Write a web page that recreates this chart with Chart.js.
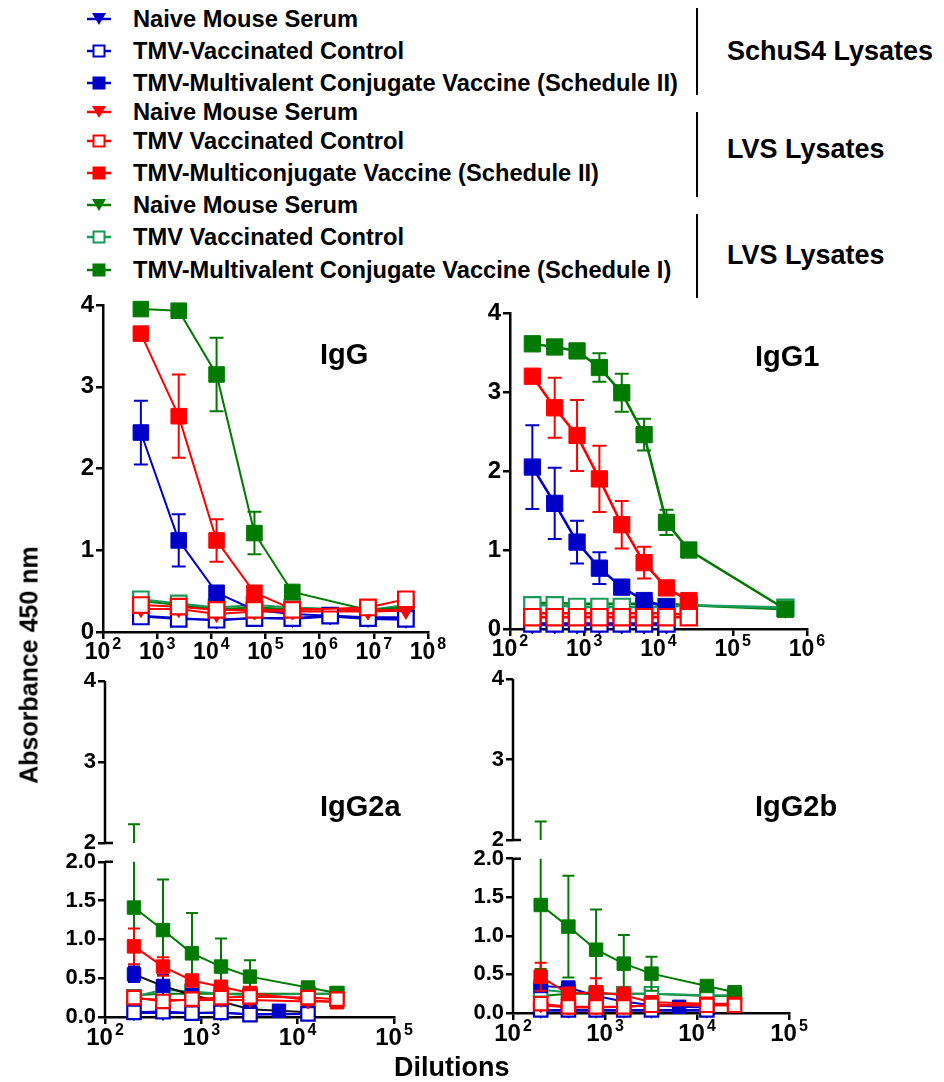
<!DOCTYPE html>
<html>
<head>
<meta charset="utf-8">
<script src="https://cdn.jsdelivr.net/npm/chart.js@4.4.0/dist/chart.umd.min.js"></script>
<style>
  body { margin: 0; background: #fff; }
  #page { position: relative; width: 944px; height: 1082px; overflow: hidden; font-family: "Liberation Sans", Arial, sans-serif; font-weight: bold; color: #000; }
  canvas { position: absolute; }
  .txt { position: absolute; white-space: nowrap; line-height: 1; }
  .leg { position: absolute; left: 86px; height: 28px; display: flex; align-items: center; font-size: 23.7px; white-space: nowrap; }
  .leg svg { margin-right: 21px; }
  .vline { position: absolute; left: 696px; width: 2px; background: #000; }
  .ptitle { font-size: 29px; }
</style>
</head>
<body>
<div id="page">
  <div id="legend"></div>
  <canvas id="cIgG"></canvas>
  <canvas id="cIgG1"></canvas>
  <canvas id="cIgG2a"></canvas>
  <canvas id="cIgG2b"></canvas>
  <div class="txt" style="left:29px; top:665px; font-size:25px; transform: translate(-50%, -50%) rotate(-90deg); transform-origin: 50% 50%;">Absorbance 450 nm</div>
  <div class="txt" style="left:394px; top:1054px; font-size:27px;">Dilutions</div>
</div>
<script>
'use strict'

// legend
const legend_labels = ['Naive Mouse Serum', 'TMV-Vaccinated Control', 'TMV-Multivalent Conjugate Vaccine (Schedule II)',
  'Naive Mouse Serum', 'TMV Vaccinated Control', 'TMV-Multiconjugate Vaccine (Schedule II)',
  'Naive Mouse Serum', 'TMV Vaccinated Control', 'TMV-Multivalent Conjugate Vaccine (Schedule I)'];
const group_labels = ['SchuS4 Lysates', 'LVS Lysates', 'LVS Lysates'];
const panel_titles = ['IgG', 'IgG1', 'IgG2a', 'IgG2b'];

// IgG
const dil_igg = [500, 2500, 12500, 62500, 312500, 1562500, 7812500, 39062500];
const igg_schu_naive = [0.20, 0.17, 0.14, 0.17, 0.16, 0.19, 0.16, 0.15];
const igg_schu_tmv = [0.19, 0.16, 0.15, 0.17, 0.17, 0.20, 0.17, 0.16];
const igg_schu_vac = [2.44, 1.12, 0.48, 0.27, 0.22, 0.20, 0.18, 0.18];
const igg_schu_vac_err = [0.39, 0.32, 0.03, 0.02, 0.02, 0.02, 0.02, 0.02];
const igg_lvs2_naive = [0.28, 0.28, 0.22, 0.25, 0.25, null, 0.25, 0.26];
const igg_lvs2_tmv = [0.33, 0.31, 0.27, 0.27, 0.27, null, 0.30, 0.40];
const igg_lvs2_vac = [3.65, 2.64, 1.12, 0.48, 0.28, null, 0.27, 0.27];
const igg_lvs2_vac_err = [0.05, 0.51, 0.26, 0.08, 0.03, null, 0.02, 0.02];
const igg_lvs1_naive = [0.38, 0.33, 0.28, 0.30, 0.28, null, 0.27, 0.30];
const igg_lvs1_tmv = [0.40, 0.35, 0.30, 0.33, 0.30, null, 0.27, 0.33];
const igg_lvs1_vac = [3.95, 3.93, 3.15, 1.21, 0.49, null, 0.27, 0.30];
const igg_lvs1_vac_err = [0.02, 0.02, 0.45, 0.26, 0.05, null, 0.02, 0.02];

// IgG1
const dil_igg1 = [200, 400, 800, 1600, 3200, 6400, 12800, 25600, 512000];
const igg1_schu_naive = [0.05, 0.05, 0.05, 0.05, 0.05, 0.05, 0.05];
const igg1_schu_tmv = [0.07, 0.07, 0.07, 0.07, 0.07, 0.07, 0.07];
const igg1_schu_vac = [2.05, 1.59, 1.10, 0.77, 0.53, 0.36, 0.28];
const igg1_schu_vac_err = [0.53, 0.45, 0.27, 0.20, 0.06, 0.03, 0.03];
const igg1_lvs2_naive = [0.20, 0.20, 0.20, 0.20, 0.20, 0.20, 0.20, 0.18];
const igg1_lvs2_tmv = [0.15, 0.15, 0.15, 0.15, 0.15, 0.15, 0.15, 0.15];
const igg1_lvs2_vac = [3.20, 2.80, 2.45, 1.90, 1.32, 0.84, 0.52, 0.36];
const igg1_lvs2_vac_err = [0.05, 0.38, 0.45, 0.42, 0.30, 0.20, 0.05, 0.05];
const igg1_lvs1_naive = [0.33, 0.33, 0.32, 0.32, 0.32, 0.32, 0.32, 0.30, 0.25];
const igg1_lvs1_tmv = [0.30, 0.30, 0.28, 0.28, 0.28, 0.28, 0.28, 0.30, 0.27];
const igg1_lvs1_vac = [3.61, 3.57, 3.52, 3.31, 2.99, 2.46, 1.35, 1.00, 0.25];
const igg1_lvs1_vac_err = [0.03, 0.03, 0.03, 0.18, 0.24, 0.20, 0.16, 0.03, 0.05];

// IgG2a / IgG2b
const dil_igg2 = [200, 400, 800, 1600, 3200, 6400, 12800, 25600];
const igg2a_schu_naive = [0.05, 0.05, 0.05, 0.05, 0.04, null, 0.04];
const igg2a_schu_tmv = [0.06, 0.07, 0.05, 0.06, 0.03, null, 0.04];
const igg2a_schu_vac = [0.55, 0.40, 0.28, 0.20, 0.10, 0.08, 0.06];
const igg2a_schu_vac_err = [0.10, 0.14, 0.04, 0.04, 0.03, 0.02, 0.02];
const igg2a_lvs2_naive = [0.24, 0.22, 0.22, 0.22, 0.22, null, 0.20, 0.20];
const igg2a_lvs2_tmv = [0.25, 0.20, 0.23, 0.25, 0.26, null, 0.25, 0.23];
const igg2a_lvs2_vac = [0.91, 0.65, 0.47, 0.39, 0.31, null, 0.22, 0.19];
const igg2a_lvs2_vac_err = [0.23, 0.12, 0.05, 0.05, 0.05, null, 0.03, 0.03];
const igg2a_lvs1_naive = [0.28, 0.30, 0.30, 0.30, 0.30, null, 0.30, 0.30];
const igg2a_lvs1_tmv = [0.26, 0.35, 0.33, 0.30, 0.28, null, 0.30, 0.30];
const igg2a_lvs1_vac = [1.41, 1.12, 0.82, 0.65, 0.52, null, 0.38, 0.31];
const igg2a_lvs1_vac_err = [0.82, 0.65, 0.52, 0.36, 0.21, null, 0.02, 0.02];

const igg2b_schu_naive = [0.03, 0.03, 0.03, 0.03, 0.03, null, 0.03];
const igg2b_schu_tmv = [0.04, 0.04, 0.04, 0.04, 0.04, null, 0.04];
const igg2b_schu_vac = [0.35, 0.33, 0.22, 0.15, 0.10, 0.08, 0.07];
const igg2b_schu_vac_err = [0.05, 0.05, 0.03, 0.03, 0.02, 0.02, 0.02];
const igg2b_lvs2_naive = [0.10, 0.07, 0.07, 0.08, 0.10, null, 0.10, 0.10];
const igg2b_lvs2_tmv = [0.12, 0.08, 0.08, 0.08, 0.10, null, 0.10, 0.10];
const igg2b_lvs2_vac = [0.47, 0.25, 0.27, 0.23, 0.14, null, 0.12, 0.12];
const igg2b_lvs2_vac_err = [0.18, 0.05, 0.18, 0.10, 0.05, null, 0.02, 0.02];
const igg2b_lvs1_naive = [0.22, 0.25, 0.25, 0.25, 0.25, null, 0.22, 0.22];
const igg2b_lvs1_tmv = [0.30, 0.27, 0.25, 0.25, 0.25, null, 0.23, 0.23];
const igg2b_lvs1_vac = [1.40, 1.12, 0.82, 0.64, 0.51, null, 0.35, 0.27];
const igg2b_lvs1_vac_err = [0.83, 0.66, 0.52, 0.37, 0.22, null, 0.02, 0.02];

const BLUE = '#0000c8', RED = '#ff0000', GREEN = '#007a00', GREEN_OPEN = '#1a9a5a';
const LOWER_FRAC = 0.462, UPPER_FRAC = 0.482;
const FONT = '"Liberation Sans", Arial, sans-serif';

// y axis with a break between 2.0 (lower part) and 2 (upper part)
class BrokenLinearScale extends Chart.LinearScale {
  upperPixel(v) { return this.top + (4 - v) / 2 * (this.bottom - this.top) * UPPER_FRAC; }
  getPixelForValue(v) {
    if (v <= 2) return this.bottom - v / 2 * (this.bottom - this.top) * LOWER_FRAC;
    return this.upperPixel(v);
  }
  getValueForPixel(p) {
    const h = this.bottom - this.top;
    if (p >= this.bottom - h * LOWER_FRAC) return (this.bottom - p) / (h * LOWER_FRAC) * 2;
    return 4 - (p - this.top) / (h * UPPER_FRAC) * 2;
  }
  getPixelForTick(i) {
    const t = this.ticks[i];
    return t.upper ? this.upperPixel(t.value) : this.getPixelForValue(t.value);
  }
}
BrokenLinearScale.id = 'brokenLinear';
BrokenLinearScale.defaults = {};
Chart.register(BrokenLinearScale);

const errorBars = {
  id: 'errorBars',
  beforeDatasetDraw(chart, args) {
    const ds = chart.data.datasets[args.index];
    if (!ds.withErr) return;
    const ys = chart.scales.y, ctx = chart.ctx, cap = ds.cap;
    ctx.save();
    ctx.strokeStyle = ds.pointBorderColor;
    ctx.lineWidth = 2;
    args.meta.data.forEach(function(pt, i) {
      const p = ds.data[i];
      if (!p.e) return;
      const x = pt.x;
      const yLo = ys.getPixelForValue(p.y - p.e), yHi = ys.getPixelForValue(p.y + p.e);
      ctx.beginPath();
      if (ys.type === 'brokenLinear' && p.y + p.e > 2) {
        ctx.moveTo(x, yLo); ctx.lineTo(x, ys.getPixelForValue(2));
        ctx.moveTo(x, ys.upperPixel(2)); ctx.lineTo(x, yHi);
      } else {
        ctx.moveTo(x, yLo); ctx.lineTo(x, yHi);
      }
      ctx.moveTo(x - cap, yLo); ctx.lineTo(x + cap, yLo);
      ctx.moveTo(x - cap, yHi); ctx.lineTo(x + cap, yHi);
      ctx.stroke();
    });
    ctx.restore();
  }
};

const brokenAxis = {
  id: 'brokenAxis',
  beforeDatasetsDraw(chart) {
    const ys = chart.scales.y;
    if (ys.type !== 'brokenLinear') return;
    const ctx = chart.ctx, x = chart.chartArea.left;
    const y2 = ys.getPixelForValue(2), u2 = ys.upperPixel(2);
    ctx.save();
    ctx.strokeStyle = '#000';
    ctx.lineWidth = 2.5;
    ctx.beginPath();
    ctx.moveTo(x, ys.bottom); ctx.lineTo(x, y2);
    ctx.moveTo(x, u2); ctx.lineTo(x, ys.top);
    ctx.moveTo(x, y2); ctx.lineTo(x + 8, y2);
    ctx.moveTo(x, u2); ctx.lineTo(x + 8, u2);
    ctx.stroke();
    ctx.restore();
  }
};

// x tick labels 10^n with a real superscript
const powerLabels = {
  id: 'powerLabels',
  afterDraw(chart) {
    const xs = chart.scales.x, ctx = chart.ctx;
    const big = chart.options.plugins.powerLabels.size, small = Math.round(big * 0.68);
    ctx.save();
    ctx.fillStyle = '#000';
    ctx.textBaseline = 'alphabetic';
    xs.ticks.forEach(function(t) {
      const x = xs.getPixelForValue(t.value);
      const base = '10', exp = String(Math.round(Math.log10(t.value)));
      ctx.font = 'bold ' + big + 'px ' + FONT;
      const wb = ctx.measureText(base).width;
      ctx.font = 'bold ' + small + 'px ' + FONT;
      const we = ctx.measureText(exp).width;
      const x0 = x - (wb + we + 2) / 2;
      const yb = xs.top + 10 + big * 0.74;
      ctx.font = 'bold ' + big + 'px ' + FONT;
      ctx.fillText(base, x0, yb);
      ctx.font = 'bold ' + small + 'px ' + FONT;
      ctx.fillText(exp, x0 + wb + 2, yb - big * 0.42);
    });
    ctx.restore();
  }
};

function series(dil, vals, errs, color, kind, size, lineColor) {
  const pts = [];
  vals.forEach(function(v, i) {
    if (v === null) return;
    pts.push({ x: dil[i], y: v, e: errs ? errs[i] : 0 });
  });
  return {
    data: pts,
    withErr: !!errs,
    cap: size.cap,
    borderColor: lineColor || color,
    borderWidth: size.line,
    pointStyle: kind === 'tri' ? 'triangle' : 'rect',
    pointRotation: kind === 'tri' ? 180 : 0,
    pointRadius: kind === 'tri' ? size.tri : size.rect,
    pointBackgroundColor: kind === 'open' ? '#fff' : color,
    pointBorderColor: color,
    pointBorderWidth: kind === 'open' ? 2.2 : 1,
    tension: 0,
    fill: false,
    clip: false
  };
}

function panelDatasets(dil, s, size, schuLine) {
  // first in list is drawn on top
  return [
    series(dil, s.lvs2_tmv, null, RED, 'open', size),
    series(dil, s.lvs2_naive, null, RED, 'tri', size),
    series(dil, s.schu_tmv, null, BLUE, 'open', size),
    series(dil, s.schu_naive, null, BLUE, 'tri', size),
    series(dil, s.lvs2_vac, s.lvs2_vac_err, RED, 'sq', size),
    series(dil, s.schu_vac, s.schu_vac_err, BLUE, 'sq', size, schuLine),
    series(dil, s.lvs1_vac, s.lvs1_vac_err, GREEN, 'sq', size),
    series(dil, s.lvs1_tmv, null, GREEN_OPEN, 'open', size),
    series(dil, s.lvs1_naive, null, GREEN, 'tri', size)
  ];
}

const PAD = { L: 70, T: 24, R: 40, B: 46 };

function makePanel(id, area, xMax, datasets, broken, yFont, xFont) {
  const cv = document.getElementById(id);
  const w = area.r - area.l + PAD.L + PAD.R, h = area.b - area.t + PAD.T + PAD.B;
  cv.width = w; cv.height = h;
  cv.style.left = (area.l - PAD.L) + 'px';
  cv.style.top = (area.t - PAD.T) + 'px';
  cv.style.width = w + 'px'; cv.style.height = h + 'px';

  const yScale = {
    type: broken ? 'brokenLinear' : 'linear',
    min: 0, max: 4,
    afterFit: function(s) { s.width = PAD.L; },
    grid: { display: true, drawOnChartArea: false, drawTicks: true, tickLength: 7, color: '#000', lineWidth: 2.5 },
    border: { display: !broken, color: '#000', width: 2.5 },
    ticks: {
      color: '#000', font: { family: FONT, size: yFont, weight: 'bold' }, padding: 2, autoSkip: false,
      callback: function(v, i, t) { return broken ? (t[i].upper ? String(v) : v.toFixed(1)) : String(v); }
    },
    afterBuildTicks: function(s) {
      if (broken) {
        s.ticks = [0, 0.5, 1, 1.5, 2].map(function(v) { return { value: v }; })
          .concat([2, 3, 4].map(function(v) { return { value: v, upper: true }; }));
      } else {
        s.ticks = [0, 1, 2, 3, 4].map(function(v) { return { value: v }; });
      }
    }
  };
  const xScale = {
    type: 'logarithmic',
    min: 100, max: xMax,
    afterFit: function(s) { s.height = PAD.B; },
    grid: { display: true, drawOnChartArea: false, drawTicks: true, tickLength: 7, color: '#000', lineWidth: 2.5 },
    border: { display: true, color: '#000', width: 2.5 },
    ticks: { display: false, autoSkip: false },
    afterBuildTicks: function(s) {
      const t = [];
      for (let v = 100; v <= xMax * 1.0001; v *= 10) t.push({ value: v });
      s.ticks = t;
    }
  };

  return new Chart(cv.getContext('2d'), {
    type: 'line',
    data: { datasets: datasets },
    options: {
      responsive: false,
      animation: false,
      events: [],
      layout: { padding: { left: 0, top: PAD.T, right: PAD.R, bottom: 0 } },
      scales: { x: xScale, y: yScale },
      plugins: { legend: { display: false }, tooltip: { enabled: false }, powerLabels: { size: xFont } }
    },
    plugins: [errorBars, brokenAxis, powerLabels]
  });
}

const topSize = { rect: 11, tri: 8.5, cap: 7, line: 2 };
const topSize1 = { rect: 11.5, tri: 9, cap: 7, line: 2.6 };
const botSize = { rect: 9.5, tri: 7.5, cap: 6, line: 2 };

makePanel('cIgG', { l: 103, t: 305, r: 428, b: 632 }, 1e8, panelDatasets(dil_igg, {
  schu_naive: igg_schu_naive, schu_tmv: igg_schu_tmv, schu_vac: igg_schu_vac, schu_vac_err: igg_schu_vac_err,
  lvs2_naive: igg_lvs2_naive, lvs2_tmv: igg_lvs2_tmv, lvs2_vac: igg_lvs2_vac, lvs2_vac_err: igg_lvs2_vac_err,
  lvs1_naive: igg_lvs1_naive, lvs1_tmv: igg_lvs1_tmv, lvs1_vac: igg_lvs1_vac, lvs1_vac_err: igg_lvs1_vac_err
}, topSize), false, 24, 23);

makePanel('cIgG1', { l: 510, t: 313, r: 807, b: 629 }, 1e6, panelDatasets(dil_igg1, {
  schu_naive: igg1_schu_naive, schu_tmv: igg1_schu_tmv, schu_vac: igg1_schu_vac, schu_vac_err: igg1_schu_vac_err,
  lvs2_naive: igg1_lvs2_naive, lvs2_tmv: igg1_lvs2_tmv, lvs2_vac: igg1_lvs2_vac, lvs2_vac_err: igg1_lvs2_vac_err,
  lvs1_naive: igg1_lvs1_naive, lvs1_tmv: igg1_lvs1_tmv, lvs1_vac: igg1_lvs1_vac, lvs1_vac_err: igg1_lvs1_vac_err
}, topSize1), false, 24, 23);

makePanel('cIgG2a', { l: 105, t: 681, r: 394, b: 1017 }, 1e5, panelDatasets(dil_igg2, {
  schu_naive: igg2a_schu_naive, schu_tmv: igg2a_schu_tmv, schu_vac: igg2a_schu_vac, schu_vac_err: igg2a_schu_vac_err,
  lvs2_naive: igg2a_lvs2_naive, lvs2_tmv: igg2a_lvs2_tmv, lvs2_vac: igg2a_lvs2_vac, lvs2_vac_err: igg2a_lvs2_vac_err,
  lvs1_naive: igg2a_lvs1_naive, lvs1_tmv: igg2a_lvs1_tmv, lvs1_vac: igg2a_lvs1_vac, lvs1_vac_err: igg2a_lvs1_vac_err
}, botSize, '#111'), true, 22, 24);

makePanel('cIgG2b', { l: 513, t: 679, r: 789, b: 1013 }, 1e5, panelDatasets(dil_igg2, {
  schu_naive: igg2b_schu_naive, schu_tmv: igg2b_schu_tmv, schu_vac: igg2b_schu_vac, schu_vac_err: igg2b_schu_vac_err,
  lvs2_naive: igg2b_lvs2_naive, lvs2_tmv: igg2b_lvs2_tmv, lvs2_vac: igg2b_lvs2_vac, lvs2_vac_err: igg2b_lvs2_vac_err,
  lvs1_naive: igg2b_lvs1_naive, lvs1_tmv: igg2b_lvs1_tmv, lvs1_vac: igg2b_lvs1_vac, lvs1_vac_err: igg2b_lvs1_vac_err
}, botSize), true, 22, 24);

// panel titles
const page = document.getElementById('page');
[[320, 355], [755, 357], [320, 807], [755, 807]].forEach(function(p, i) {
  const d = document.createElement('div');
  d.className = 'txt ptitle';
  d.style.left = p[0] + 'px';
  d.style.top = (p[1] - 15) + 'px';
  d.textContent = panel_titles[i];
  page.appendChild(d);
});

// legend rows
const legend_colors = [BLUE, BLUE, BLUE, RED, RED, RED, GREEN, GREEN_OPEN, GREEN];
const legend_kinds = ['tri', 'open', 'sq', 'tri', 'open', 'sq', 'tri', 'open', 'sq'];
const legend_rows = [19, 51, 83, 112, 141, 173, 205, 237, 270];
function legendIcon(color, kind) {
  let m;
  if (kind === 'tri') m = '<polygon points="6,4 20,4 13,16" fill="' + color + '"/>';
  else if (kind === 'open') m = '<rect x="7.5" y="4.5" width="11" height="11" fill="#fff" stroke="' + color + '" stroke-width="2"/>';
  else m = '<rect x="6.5" y="3.5" width="13" height="13" fill="' + color + '"/>';
  return '<svg width="26" height="20" viewBox="0 0 26 20"><line x1="1" y1="10" x2="25" y2="10" stroke="' + color + '" stroke-width="2.5"/>' + m + '</svg>';
}
const leg = document.getElementById('legend');
legend_labels.forEach(function(lab, i) {
  const d = document.createElement('div');
  d.className = 'leg';
  d.style.top = (legend_rows[i] - 14) + 'px';
  d.innerHTML = legendIcon(legend_colors[i], legend_kinds[i]);
  d.appendChild(document.createTextNode(lab));
  leg.appendChild(d);
});
[[8, 95], [112, 197], [214, 298]].forEach(function(s) {
  const v = document.createElement('div');
  v.className = 'vline';
  v.style.top = s[0] + 'px';
  v.style.height = (s[1] - s[0]) + 'px';
  leg.appendChild(v);
});
[[52, 727], [150, 727], [256, 727]].forEach(function(p, i) {
  const d = document.createElement('div');
  d.className = 'txt';
  d.style.fontSize = '27px';
  d.style.left = p[1] + 'px';
  d.style.top = (p[0] - 14) + 'px';
  d.textContent = group_labels[i];
  leg.appendChild(d);
});
</script>
</body>
</html>
